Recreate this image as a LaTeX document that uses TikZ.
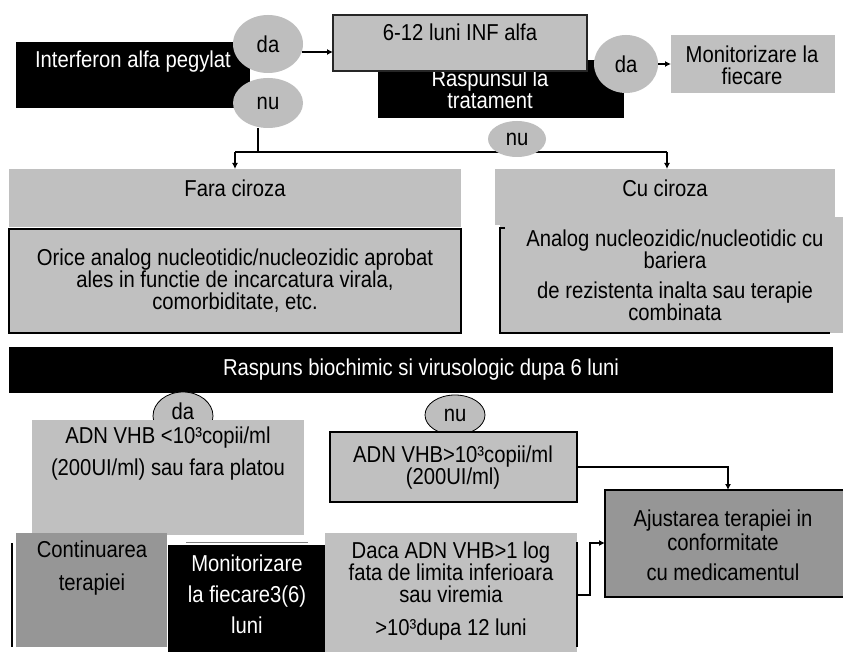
\documentclass[tikz,border=0pt]{standalone}
\usepackage{fontspec}
\setmainfont{Liberation Sans}[FakeStretch=0.88]
\usetikzlibrary{shapes.geometric,arrows.meta}
\definecolor{lg}{HTML}{C0C0C0}
\definecolor{dg}{HTML}{969696}
\definecolor{elc}{HTML}{BEBEBE}
\tikzset{
  box/.style={rectangle,inner sep=0pt,outer sep=0pt,anchor=north west},
  txt/.style={font=\fontsize{23}{22}\selectfont,align=center,inner sep=0pt},
  elnode/.style={ellipse,fill=elc,inner sep=0pt,font=\fontsize{23}{22}\selectfont},
  arr/.style={-{Latex[length=6pt,width=6pt]},line width=1.4pt},
  ln/.style={line width=1.4pt},
  bd/.style={line width=1.5pt,black}
}
\newcommand\rbox[6]{\node[box,#6,minimum width={(#4-#2)*1pt},minimum height={(#5-#3)*1pt}] (#1) at (#2,#3) {};}
\begin{document}
\begin{tikzpicture}[x=1pt,y=-1pt]
\useasboundingbox[fill=white] (0,0) rectangle (845,652);
% ---- top row
\rbox{ifn}{16}{42}{250}{108}{fill=black}
\node[txt,text=white] (tifn) at (133,62) {Interferon alfa pegylat};
\rbox{rasp}{378}{60}{624}{118}{fill=black}
\node[txt,text=white] (trasp) at (490,89) {Raspunsul la\\tratament};
\rbox{b612}{333}{15}{587}{71}{fill=lg,draw=black!85,line width=1.2pt}
\node[txt] (t612) at (460,32) {6-12 luni INF alfa};
\node[elnode,minimum width=70pt,minimum height=58pt] (da1) at (268,44) {da};
\node[elnode,minimum width=70pt,minimum height=50pt] (nu1) at (268,103) {nu};
\node[elnode,minimum width=64pt,minimum height=58pt] (da2) at (626,64) {da};
\rbox{mon1}{671}{35}{835}{93}{fill=lg}
\node[txt,font=\fontsize{23}{22}\selectfont] (tmon1) at (752,65) {Monitorizare la\\fiecare};
\coordinate (a1) at (302,52);
\draw[arr] (a1) -- (a1 -| b612.west);
\draw[arr] (da2.east) -- (da2.east -| mon1.west);
\coordinate (c1) at (258,152);
\coordinate (hl) at (235,152);
\coordinate (hr) at (667,152);
\draw[ln] ([xshift=-10pt]nu1.south) -- (c1);
\draw[ln] (hl) -- (hr);
\node[elnode,minimum width=58pt,minimum height=36pt] (nu2) at (517,139) {nu};
% ---- second row
\rbox{orice}{9}{229}{461}{333}{fill=lg,draw=black,line width=1.5pt}
\rbox{fara}{9}{169}{461}{227}{fill=lg}
\node[txt] (tfara) at (235,188) {Fara ciroza};
\node[txt] (torice) at (235,281) {Orice analog nucleotidic/nucleozidic aprobat\\ales in functie de incarcatura virala,\\comorbiditate, etc.};
\rbox{analog}{500}{217}{843}{333}{fill=lg}
\rbox{cu}{495}{169}{835}{225}{fill=lg}
\node[txt] (tcu) at (665,188) {Cu ciroza};
\node[txt] (tanalog) at (675,275) {Analog nucleozidic/nucleotidic cu\\bariera\\[8pt]de rezistenta inalta sau terapie\\combinata};
\draw[bd] ([yshift=-11pt]analog.north west) ++(5,0) -- ++(-5,0) -- (analog.south west) -- ([xshift=-13pt]analog.south east);
\draw[arr] (hl) -- (hl |- fara.north);
\draw[arr] (hr) -- (hr |- cu.north);
% ---- third row
\rbox{bar}{9}{347}{833}{393}{fill=black}
\node[txt,text=white] (tbar) at (421,370) {Raspuns biochimic si virusologic dupa 6 luni};
\node[elnode,draw=black,line width=0.8pt,minimum width=60pt,minimum height=48pt] (da3) at (183,416) {};
\node[elnode,draw=black,line width=0.8pt,minimum width=60pt,minimum height=40pt] (nu3) at (455,415) {nu};
\rbox{adn1}{32}{420}{304}{535}{fill=lg}
\node[txt] (tda3) at (183,411) {da};
\node[txt] (tadn1) at (168,454) {ADN VHB <10³copii/ml\\[10pt](200UI/ml) sau fara platou};
\rbox{adn2}{330}{432}{577}{502}{fill=lg,draw=black,line width=1.5pt}
\node[txt] (tadn2) at (453,468) {ADN VHB>10³copii/ml\\(200UI/ml)};
\rbox{aj}{605}{490}{843}{597}{fill=dg}
\draw[bd] (aj.north east) -- (aj.north west) -- (aj.south west) -- (aj.south east);
\node[txt,font=\fontsize{23}{24}\selectfont] (taj) at (723,545) {Ajustarea terapiei in\\conformitate\\[6pt]cu medicamentul};
\coordinate (k1) at (728,467);
\draw[arr] (adn2.east |- k1) -- (k1) -- (k1 |- aj.north);
\rbox{cont}{16}{533}{167}{647}{fill=dg}
\draw[bd] ([xshift=-4pt,yshift=-10pt]cont.north west) -- ([xshift=-4pt]cont.south west);
\node[txt,font=\fontsize{23}{33}\selectfont] (tcont) at (92,568) {Continuarea\\terapiei};
\rbox{mon2}{168}{545}{325}{652}{fill=black}
\draw[gray,line width=0.8pt] ([xshift=18pt,yshift=3pt]mon2.north west) -- ([xshift=-17pt,yshift=3pt]mon2.north east);
\node[txt,text=white,font=\fontsize{23}{31}\selectfont] (tmon2) at (247,594) {Monitorizare\\la fiecare3(6)\\luni};
\rbox{daca}{325}{533}{577}{652}{fill=lg}
\draw[bd] ([yshift=-9pt]daca.north east) -- ([yshift=5pt]daca.south east);
\node[txt] (tdaca) at (451,591) {Daca ADN VHB>1 log\\fata de limita inferioara\\sau viremia\\[11pt]>10³dupa 12 luni};
\coordinate (k2) at (590,595);
\coordinate (k3) at (590,543);
\draw[arr] (daca.east |- k2) -- (k2) -- (k3) -- (k3 -| aj.west);
\end{tikzpicture}
\end{document}
